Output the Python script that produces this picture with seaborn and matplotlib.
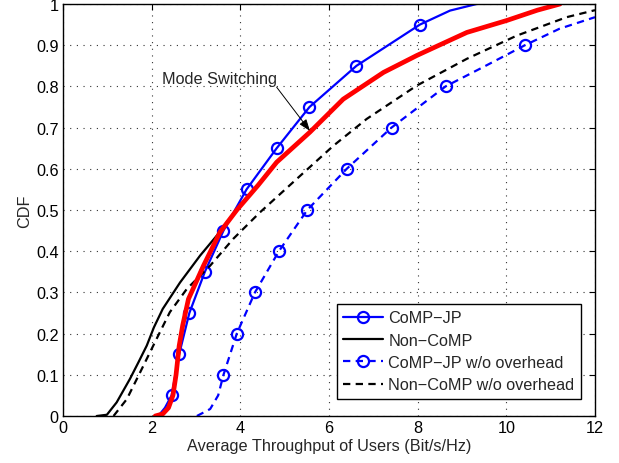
import matplotlib
matplotlib.use("Agg")
import matplotlib.pyplot as plt
import seaborn as sns
import numpy as np

# ---- data ----
comp_x = [2.15, 2.30, 2.45, 2.62, 2.85, 3.20, 3.62, 4.14, 4.82, 5.56, 6.62, 8.05, 8.73, 9.33]
comp_y = [0.0, 0.02, 0.05, 0.15, 0.25, 0.35, 0.45, 0.55, 0.65, 0.75, 0.85, 0.95, 0.984, 1.0]
comp_marks = [2, 3, 4, 5, 6, 7, 8, 9, 10, 11]

noncomp_x = [0.76, 0.99, 1.21, 1.51, 1.70, 1.89, 2.05, 2.25, 2.64, 3.09, 3.47, 3.69, 3.92, 4.40, 4.82, 5.57, 6.32, 7.23, 7.98, 9.11, 10.01, 10.70, 11.21]
noncomp_y = [0.0, 0.003, 0.033, 0.09, 0.13, 0.171, 0.215, 0.26, 0.324, 0.389, 0.438, 0.47, 0.50, 0.56, 0.616, 0.689, 0.769, 0.834, 0.875, 0.931, 0.96, 0.985, 1.0]

compwo_x = [3.02, 3.32, 3.50, 3.62, 3.92, 4.33, 4.87, 5.51, 6.40, 7.41, 8.63, 9.48, 10.42, 11.20, 12.0]
compwo_y = [0.0, 0.017, 0.05, 0.10, 0.20, 0.30, 0.40, 0.50, 0.60, 0.70, 0.80, 0.847, 0.90, 0.94, 0.968]
compwo_marks = [3, 4, 5, 6, 7, 8, 9, 10, 12]

noncompwo_x = [1.14, 1.44, 1.74, 2.11, 2.41, 2.79, 3.32, 3.84, 4.44, 5.35, 6.10, 6.85, 7.98, 9.11, 10.23, 11.36, 12.0]
noncompwo_y = [0.0, 0.041, 0.106, 0.187, 0.252, 0.308, 0.365, 0.43, 0.494, 0.583, 0.656, 0.721, 0.802, 0.867, 0.923, 0.968, 0.985]

switch_x = [2.08, 2.25, 2.38, 2.48, 2.55, 2.62, 2.70, 2.83, 3.17, 3.54, 3.92, 4.40, 4.82, 5.57, 6.32, 7.23, 7.98, 9.11, 10.01, 10.70, 11.21]
switch_y = [0.0, 0.005, 0.02, 0.05, 0.10, 0.17, 0.22, 0.284, 0.365, 0.446, 0.50, 0.56, 0.616, 0.689, 0.769, 0.834, 0.875, 0.931, 0.96, 0.985, 1.0]

labels = ["CoMP\u2212JP", "Non\u2212CoMP", "CoMP\u2212JP w/o overhead", "Non\u2212CoMP w/o overhead"]
xticks = [0, 2, 4, 6, 8, 10, 12]
yticks = [0, 0.1, 0.2, 0.3, 0.4, 0.5, 0.6, 0.7, 0.8, 0.9, 1]
ytick_labels = ["0", "0.1", "0.2", "0.3", "0.4", "0.5", "0.6", "0.7", "0.8", "0.9", "1"]
annot_text = "Mode Switching"

# ---- style ----
sns.set_style("white")
plt.rcParams['font.family'] = ['Liberation Sans', 'DejaVu Sans']
FS = 11.7
plt.rcParams['font.size'] = FS

fig = plt.figure(figsize=(6.19, 4.64), dpi=100)
ax = fig.add_axes([63/619, 47/464, 532/619, 412/464])

blue = "#0000ff"
dash = (3.3, 2.4)

sns.lineplot(x=comp_x, y=comp_y, ax=ax, sort=False, estimator=None, color=blue, lw=1.6,
             marker='o', markevery=comp_marks, markersize=8, markerfacecolor='none',
             markeredgecolor=blue, markeredgewidth=1.6, label=labels[0])
sns.lineplot(x=noncomp_x, y=noncomp_y, ax=ax, sort=False, estimator=None, color='black', lw=1.6,
             label=labels[1])
sns.lineplot(x=compwo_x, y=compwo_y, ax=ax, sort=False, estimator=None, color=blue, lw=1.6,
             linestyle=(0, dash), marker='o', markevery=compwo_marks, markersize=8,
             markerfacecolor='none', markeredgecolor=blue, markeredgewidth=1.6, label=labels[2])
sns.lineplot(x=noncompwo_x, y=noncompwo_y, ax=ax, sort=False, estimator=None, color='black', lw=1.6,
             linestyle=(0, dash), label=labels[3])
sns.lineplot(x=switch_x, y=switch_y, ax=ax, sort=False, estimator=None, color='#ff0000', lw=3.4,
             label='_nolegend_')

ax.set_xlim(0, 12)
ax.set_ylim(0, 1)
ax.set_xticks(xticks)
ax.set_xticklabels([str(t) for t in xticks])
ax.set_yticks(yticks)
ax.set_yticklabels(ytick_labels)
ax.set_xlabel("Average Throughput of Users (Bit/s/Hz)", fontsize=FS, labelpad=2)
ax.set_ylabel("CDF", fontsize=FS, labelpad=3)

ax.grid(True, linestyle=(0, (1, 5)), color='#333333', lw=0.8)
ax.tick_params(direction='in', length=4, width=0.8, top=True, right=True, labelsize=FS,
               colors='black', pad=3)
for s in ax.spines.values():
    s.set_visible(True)
    s.set_color('black')
    s.set_linewidth(1.0)

ax.text(2.23, 0.818, annot_text, fontsize=FS, va='center', ha='left')
ax.annotate("", xy=(5.57, 0.692), xytext=(4.82, 0.798),
            arrowprops=dict(arrowstyle='-|>,head_length=0.6,head_width=0.22', color='black',
                            lw=0.7, shrinkA=0, shrinkB=0))

handles = ax.get_lines()[:4]
leg = ax.legend(handles=handles, labels=labels, loc='lower right', bbox_to_anchor=(0.974, 0.041),
                frameon=True, fancybox=False, framealpha=1, edgecolor='black', fontsize=FS,
                handlelength=2.46, handletextpad=0.3, labelspacing=0.45, borderpad=0.42,
                borderaxespad=0)
leg.get_frame().set_linewidth(1.0)

fig.savefig("out.png", dpi=100)
